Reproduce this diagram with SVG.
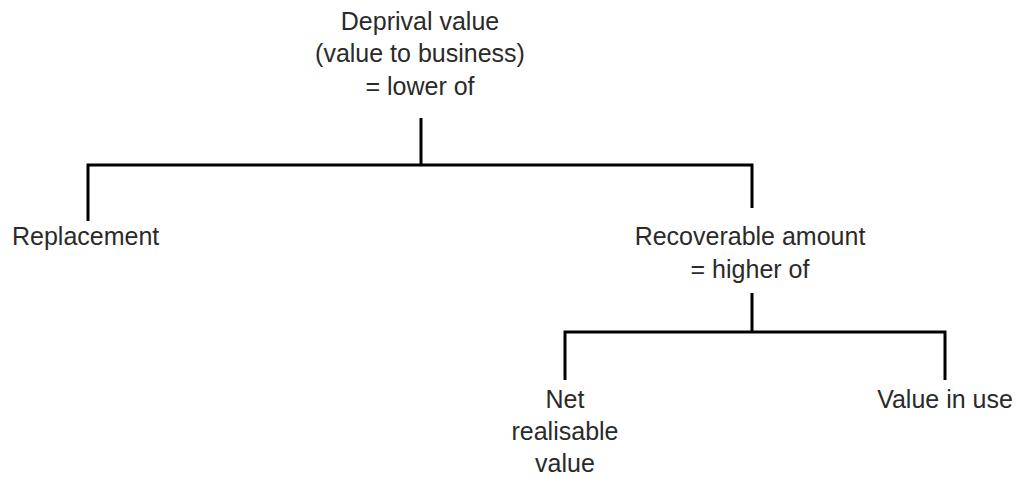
<svg xmlns="http://www.w3.org/2000/svg" width="1019" height="477" viewBox="0 0 1019 477">
  <style>
    .lbl { font-family: "Liberation Sans", Arial, sans-serif; font-size: 25px; fill: #2a2a2a; text-anchor: middle; }
    .lbl-start { text-anchor: start; }
    .edge { stroke: #000; stroke-width: 3; fill: none; stroke-linecap: butt; }
  </style>
  <rect width="1019" height="477" fill="#fff"/>

  <!-- connectors -->
  <g id="connectors">
    <path class="edge" d="M421 118 V165"/>
    <path class="edge" d="M88 221 V165 H752 V208"/>
    <path class="edge" d="M752 293 V332"/>
    <path class="edge" d="M565 380 V332 H945 V380"/>
  </g>

  <!-- nodes -->
  <g id="deprival-value">
    <text class="lbl" x="420" y="30">Deprival value</text>
    <text class="lbl" x="420" y="62">(value to business)</text>
    <text class="lbl" x="420" y="95">= lower of</text>
  </g>
  <g id="replacement">
    <text class="lbl lbl-start" x="12" y="245">Replacement</text>
  </g>
  <g id="recoverable-amount">
    <text class="lbl" x="750" y="245">Recoverable amount</text>
    <text class="lbl" x="750" y="278">= higher of</text>
  </g>
  <g id="net-realisable-value">
    <text class="lbl" x="565" y="408">Net</text>
    <text class="lbl" x="565" y="440">realisable</text>
    <text class="lbl" x="565" y="472">value</text>
  </g>
  <g id="value-in-use">
    <text class="lbl" x="945" y="408">Value in use</text>
  </g>
</svg>
